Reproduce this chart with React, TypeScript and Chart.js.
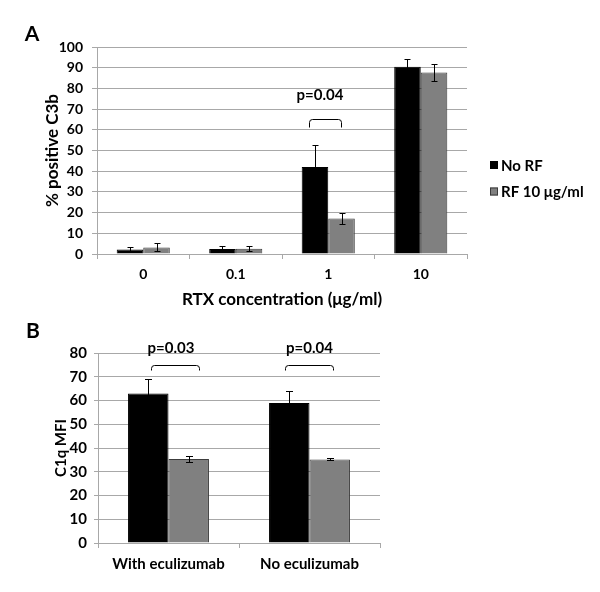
import React, { useEffect, useRef } from "react";
import { Chart, registerables } from "chart.js";

Chart.register(...registerables);

const FONT = "Lato, 'Open Sans', 'DejaVu Sans', sans-serif";

// ---------- Panel A data ----------
const concLabels = ["0", "0.1", "1", "10"];
const noRF = [2.2, 2.4, 42, 90.5];
const noRFErr = [1.3, 1.5, 10.5, 3.7];
const rf10 = [3.2, 2.5, 17.2, 87.7];
const rf10Err = [1.9, 1.2, 2.5, 3.9];
const yTicksA = [0, 10, 20, 30, 40, 50, 60, 70, 80, 90, 100];
const seriesNamesA = ["No RF", "RF 10 μg/ml"];
// significance brackets (category index units / value units)
const bracketsA = [{ from: 1.79, to: 2.135, top: 65.2, bottom: 61.5, text: "p=0.04", textX: 1.91, textY: 76.8 }];

// ---------- Panel B data ----------
const groupLabels = ["With eculizumab", "No eculizumab"];
const healthy = [63, 59];
const healthyErr = [6, 5.2];
const rfPlus = [35.4, 35.2];
const rfPlusErr = [1.2, 0.4];
const yTicksB = [0, 10, 20, 30, 40, 50, 60, 70, 80];
const seriesNamesB = ["Healthy sera", "RF+ sera"];
const bracketsB = [
  { from: -0.126, to: 0.214, top: 75.1, bottom: 72.7, text: "p=0.03", textX: 0.018, textY: 82 },
  { from: 0.826, to: 1.167, top: 75.1, bottom: 72.7, text: "p=0.04", textX: 1.0, textY: 82 },
];

const BLACK = "#000000";
const GRAY = "#808080";
const GRAY_BORDER = "#3c3c3c";
const GRID = "#a8a8a8";

const overlayPlugin = {
  id: "overlay",
  afterDatasetsDraw(chart: any, _args: any, opts: any) {
    const { ctx } = chart;
    const x = chart.scales.x;
    const y = chart.scales.y;
    ctx.save();
    ctx.strokeStyle = "#000";
    ctx.lineWidth = 1;
    // error bars
    (opts.errors || []).forEach((errs: number[], di: number) => {
      const meta = chart.getDatasetMeta(di);
      meta.data.forEach((el: any, j: number) => {
        const v = chart.data.datasets[di].data[j] as number;
        const e = errs[j];
        const px = Math.round(el.x) + 0.5;
        const t = Math.round(y.getPixelForValue(v + e)) + 0.5;
        const b = Math.round(y.getPixelForValue(v - e)) + 0.5;
        const cap = opts.cap;
        ctx.beginPath();
        ctx.moveTo(px, t);
        ctx.lineTo(px, b);
        ctx.moveTo(px - cap, t);
        ctx.lineTo(px + cap, t);
        ctx.moveTo(px - cap, b);
        ctx.lineTo(px + cap, b);
        ctx.stroke();
      });
    });
    // brackets
    (opts.brackets || []).forEach((br: any) => {
      const x1 = Math.round(x.getPixelForValue(br.from)) + 0.5;
      const x2 = Math.round(x.getPixelForValue(br.to)) + 0.5;
      const yt = Math.round(y.getPixelForValue(br.top)) + 0.5;
      const yb = Math.round(y.getPixelForValue(br.bottom)) + 0.5;
      const r = 3;
      ctx.strokeStyle = "#000";
      ctx.beginPath();
      ctx.moveTo(x1, yb);
      ctx.lineTo(x1, yt + r);
      ctx.quadraticCurveTo(x1, yt, x1 + r, yt);
      ctx.lineTo(x2 - r, yt);
      ctx.quadraticCurveTo(x2, yt, x2, yt + r);
      ctx.lineTo(x2, yb);
      ctx.stroke();
      ctx.fillStyle = "#000";
      ctx.font = `bold ${opts.pFont}px ${FONT}`;
      ctx.textAlign = "center";
      ctx.textBaseline = "middle";
      ctx.fillText(br.text, x.getPixelForValue(br.textX), y.getPixelForValue(br.textY));
    });
    // legend
    const lg = opts.legend;
    ctx.font = `bold ${lg.font}px ${FONT}`;
    ctx.textAlign = "left";
    ctx.textBaseline = "middle";
    lg.names.forEach((name: string, i: number) => {
      const cy = lg.y + i * lg.gap;
      const ds = chart.data.datasets[i];
      ctx.fillStyle = ds.backgroundColor;
      ctx.fillRect(lg.x, cy - lg.box / 2, lg.box, lg.box);
      ctx.strokeStyle = ds.borderColor;
      ctx.strokeRect(lg.x + 0.5, cy - lg.box / 2 + 0.5, lg.box - 1, lg.box - 1);
      ctx.fillStyle = "#000";
      ctx.fillText(name, lg.x + lg.box + 3, cy + 1);
    });
    // panel letter
    ctx.font = `bold ${opts.letterFont}px ${FONT}`;
    ctx.textAlign = "center";
    ctx.textBaseline = "middle";
    ctx.fillStyle = "#000";
    ctx.fillText(opts.letter.text, opts.letter.x, opts.letter.y);
    ctx.restore();
  },
};

function buildConfig(p: any) {
  return {
    type: "bar",
    data: {
      labels: p.labels,
      datasets: [
        { label: p.names[0], data: p.s1, backgroundColor: BLACK, borderColor: BLACK, borderWidth: 1 },
        { label: p.names[1], data: p.s2, backgroundColor: GRAY, borderColor: GRAY_BORDER, borderWidth: 1 },
      ],
    },
    options: {
      responsive: false,
      animation: false,
      events: [],
      layout: { padding: p.padding },
      datasets: { bar: { categoryPercentage: 0.574, barPercentage: 1 } },
      plugins: {
        legend: { display: false },
        tooltip: { enabled: false },
        overlay: p.overlay,
      },
      scales: {
        x: {
          grid: { display: true, drawOnChartArea: false, drawTicks: true, tickLength: 5, color: GRID, offset: true },
          border: { display: true, color: GRID },
          ticks: { color: "#000", padding: p.xTickPad, font: { family: FONT, size: p.tickFont, weight: "bold" } },
          title: p.xTitle
            ? { display: true, text: p.xTitle, color: "#000", padding: { top: 0, bottom: 0 }, font: { family: FONT, size: p.xTitleFont, weight: "bold" } }
            : { display: false },
          afterFit: (s: any) => {
            s.height = p.xHeight;
          },
        },
        y: {
          min: 0,
          max: p.yMax,
          afterBuildTicks: (s: any) => {
            s.ticks = p.yTicks.map((v: number) => ({ value: v }));
          },
          grid: { color: GRID, drawTicks: true, tickLength: p.yTickLen },
          border: { display: true, color: GRID },
          ticks: { color: "#000", padding: p.yTickPad, font: { family: FONT, size: p.tickFont, weight: "bold" } },
          title: { display: true, text: p.yTitle, color: "#000", padding: { top: 4, bottom: 4 }, font: { family: FONT, size: p.yTitleFont, weight: "bold" } },
          afterFit: (s: any) => {
            s.width = p.yWidth;
          },
        },
      },
    },
    plugins: [overlayPlugin],
  };
}

function ChartCanvas({ config, width, height, top }: any) {
  const ref = useRef<HTMLCanvasElement | null>(null);
  useEffect(() => {
    if (!ref.current) return;
    const chart = new Chart(ref.current, config as any);
    return () => chart.destroy();
  }, []);
  return <canvas ref={ref} width={width} height={height} style={{ position: "absolute", left: 0, top, width, height }} />;
}

export default function App() {
  const configA = buildConfig({
    labels: concLabels,
    names: seriesNamesA,
    s1: noRF,
    s2: rf10,
    padding: { top: 47, right: 133, left: 38, bottom: 0 },
    yWidth: 59,
    xHeight: 56,
    yMax: 100,
    yTicks: yTicksA,
    yTickLen: 5,
    yTickPad: 9,
    xTickPad: 7,
    tickFont: 14,
    xTitleFont: 17,
    yTitleFont: 17,
    yTitle: "% positive C3b",
    xTitle: "RTX concentration (μg/ml)",
    overlay: {
      errors: [noRFErr, rf10Err],
      cap: 3,
      brackets: bracketsA,
      pFont: 15,
      legend: { names: seriesNamesA, x: 490, y: 165, gap: 26.5, box: 8, font: 15 },
      letter: { text: "A", x: 32, y: 34 },
      letterFont: 21,
    },
  });
  const configB = buildConfig({
    labels: groupLabels,
    names: seriesNamesB,
    s1: healthy,
    s2: rfPlus,
    padding: { top: 43, right: 220, left: 48, bottom: 9 },
    yWidth: 50,
    xHeight: 40,
    yMax: 80,
    yTicks: yTicksB,
    yTickLen: 4,
    yTickPad: 7,
    xTickPad: 7,
    tickFont: 15,
    xTitleFont: 15,
    yTitleFont: 15,
    yTitle: "C1q MFI",
    xTitle: "",
    overlay: {
      errors: [healthyErr, rfPlusErr],
      cap: 3.5,
      brackets: bracketsB,
      pFont: 15,
      legend: { names: seriesNamesB, x: 402, y: 446, gap: 27, box: 9, font: 15 },
      letter: { text: "B", x: 33, y: 21 },
      letterFont: 21,
    },
  });
  return (
    <div style={{ position: "absolute", left: 0, top: 0, width: 600, height: 592, background: "#fff" }}>
      <ChartCanvas config={configA} width={600} height={310} top={0} />
      <ChartCanvas config={configB} width={600} height={282} top={310} />
    </div>
  );
}
